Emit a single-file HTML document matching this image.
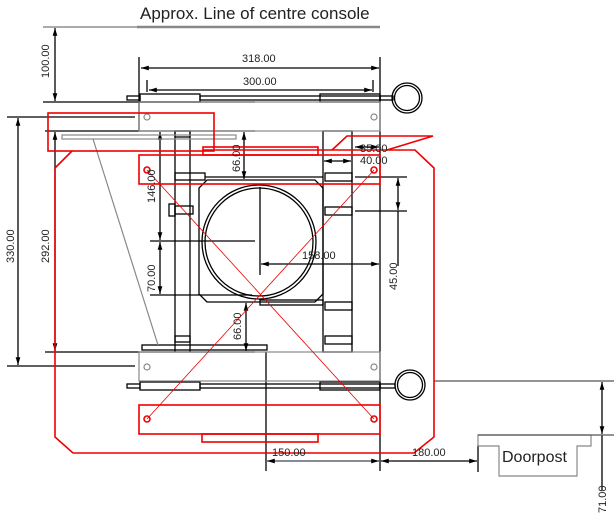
<!DOCTYPE html>
<html><head><style>body{margin:0;background:#fff}svg{display:block}text{font-family:"Liberation Sans",sans-serif;fill:#222}</style></head>
<body>
<svg width="614" height="515" viewBox="0 0 614 515" xmlns="http://www.w3.org/2000/svg">
<defs>
<marker id="a" viewBox="0 0 10 10" refX="10" refY="5" markerWidth="6" markerHeight="6" orient="auto-start-reverse"><path d="M0,2 L10,5 L0,8z" fill="#000"/></marker>
</defs>
<text x="140" y="19" font-size="17">Approx. Line of centre console</text>
<line x1="43" y1="27" x2="137" y2="27" stroke="#555" stroke-width="1"/>
<line x1="137" y1="27" x2="380" y2="27" stroke="#888" stroke-width="2.5"/>
<g stroke="#000" stroke-width="1.3" fill="none">
<line x1="55" y1="28" x2="55" y2="101" marker-start="url(#a)" marker-end="url(#a)"/>
<line x1="43" y1="102" x2="255" y2="102"/>
<line x1="139" y1="57" x2="139" y2="131"/>
<line x1="380" y1="57" x2="380" y2="471"/>
<line x1="141" y1="68" x2="379" y2="68" marker-start="url(#a)" marker-end="url(#a)"/>
<line x1="147" y1="80" x2="147" y2="92"/><line x1="373" y1="80" x2="373" y2="92"/>
<line x1="149" y1="90" x2="372" y2="90" marker-start="url(#a)" marker-end="url(#a)"/>
<rect x="127" y="96" width="13" height="4"/><rect x="140" y="94" width="60" height="8"/><rect x="200" y="96" width="180" height="4"/><rect x="320" y="94" width="60" height="8"/><rect x="380" y="96" width="13" height="4"/>
<circle cx="407" cy="98" r="15"/><circle cx="407" cy="98" r="12.5"/>
<rect x="127" y="384" width="13" height="4"/><rect x="140" y="382" width="60" height="8"/><rect x="200" y="384" width="180" height="4"/><rect x="320" y="382" width="60" height="8"/><rect x="380" y="384" width="15" height="4"/>
<circle cx="410" cy="385" r="15"/><circle cx="410" cy="385" r="12.5"/>
<line x1="7" y1="117" x2="135" y2="117"/><line x1="7" y1="366" x2="135" y2="366"/>
<line x1="18" y1="118" x2="18" y2="365" marker-start="url(#a)" marker-end="url(#a)"/>
<line x1="45" y1="131" x2="255" y2="131"/><line x1="45" y1="352" x2="255" y2="352"/>
<line x1="55" y1="132" x2="55" y2="351" marker-start="url(#a)" marker-end="url(#a)"/>
<line x1="175" y1="131" x2="175" y2="352"/><line x1="190" y1="131" x2="190" y2="352"/>
<rect x="175" y="131" width="15" height="6"/><rect x="175" y="336" width="15" height="6"/>
<rect x="169" y="204" width="6" height="12"/><rect x="175" y="206" width="18" height="8"/>
<path d="M207,180 L315,180 L323,188 L323,294 L315,302 L207,302 L199,294 L199,188Z"/>
<circle cx="259" cy="242" r="57"/><circle cx="259" cy="242" r="54"/>
<rect x="323" y="131" width="29" height="221"/>
<rect x="175" y="173" width="30" height="7"/><line x1="205" y1="177" x2="323" y2="177"/>
<rect x="325" y="173" width="27" height="8"/><rect x="325" y="207" width="27" height="8"/>
<rect x="260" y="300" width="63" height="5"/><rect x="325" y="302" width="27" height="8"/><rect x="325" y="336" width="27" height="8"/>
<rect x="142" y="345" width="125" height="5"/>
<line x1="150" y1="241" x2="255" y2="241"/><line x1="150" y1="295" x2="252" y2="295"/>
<line x1="160" y1="132" x2="160" y2="240" marker-start="url(#a)" marker-end="url(#a)"/>
<line x1="160" y1="242" x2="160" y2="294" marker-start="url(#a)" marker-end="url(#a)"/>
<line x1="244" y1="132" x2="244" y2="179" marker-start="url(#a)" marker-end="url(#a)"/>
<line x1="246" y1="303" x2="246" y2="351" marker-start="url(#a)" marker-end="url(#a)"/>
<line x1="260" y1="187" x2="260" y2="275"/>
<line x1="261" y1="264" x2="379" y2="264" marker-start="url(#a)" marker-end="url(#a)"/>
<line x1="355" y1="177" x2="407" y2="177"/><line x1="355" y1="211" x2="407" y2="211"/>
<line x1="398" y1="178" x2="398" y2="210" marker-start="url(#a)" marker-end="url(#a)"/>
<line x1="398" y1="211" x2="398" y2="266"/>
<line x1="355" y1="147" x2="379" y2="147" marker-start="url(#a)" marker-end="url(#a)"/>
<line x1="324" y1="161" x2="351" y2="161" marker-start="url(#a)" marker-end="url(#a)"/>
<line x1="266" y1="352" x2="266" y2="471"/>
<line x1="267" y1="461" x2="379" y2="461" marker-start="url(#a)" marker-end="url(#a)" stroke="#445"/>
<line x1="381" y1="461" x2="477" y2="461" marker-start="url(#a)" marker-end="url(#a)"/>
<line x1="478" y1="445" x2="478" y2="472"/>
<line x1="602" y1="382" x2="602" y2="434" marker-start="url(#a)" marker-end="url(#a)"/>
<line x1="602" y1="435" x2="602" y2="490"/>
</g>
<g stroke="#888" fill="none" stroke-width="1.2">
<rect x="139" y="102" width="241" height="29"/><rect x="139" y="352" width="241" height="29"/>
<circle cx="147" cy="117" r="3"/><circle cx="374" cy="117" r="3"/>
<circle cx="147" cy="367" r="3"/><circle cx="374" cy="367" r="3"/>
<rect x="62" y="135" width="174" height="4"/>
<line x1="93" y1="139" x2="158" y2="345"/>
<path d="M478,435 L591,435 L591,446 L577,446 L577,476 L499,476 L499,446 L478,446Z"/>
</g>
<line x1="434" y1="381" x2="614" y2="381" stroke="#555" stroke-width="1.2"/>
<line x1="478" y1="435" x2="614" y2="435" stroke="#555" stroke-width="1.2"/>
<g stroke="#e00" fill="none" stroke-width="1.6">
<rect x="48" y="113" width="166" height="38"/>
<path d="M72,151 L55,168 L55,437 L73,453 L414,453 L434,437 L434,168 L415,150 L203,150"/>
<path d="M332,150 L347,136 L433,136 L387,150"/>
<rect x="203" y="147" width="115" height="8"/>
<rect x="139" y="155" width="241" height="29"/>
<rect x="139" y="405" width="241" height="29"/>
<rect x="202" y="434" width="116" height="8"/>
<circle cx="147" cy="170" r="3"/><circle cx="374" cy="170" r="3"/>
<circle cx="147" cy="419" r="3"/><circle cx="374" cy="419" r="3"/>
</g>
<g stroke="#e00" stroke-width="0.8">
<line x1="147" y1="170" x2="374" y2="419"/><line x1="374" y1="170" x2="147" y2="419"/>
</g>
<g font-size="11">
<text x="242" y="62">318.00</text>
<text x="243" y="85">300.00</text>
<text x="360" y="152">35.00</text>
<text x="360" y="164">40.00</text>
<text x="302" y="259">158.00</text>
<text x="272" y="456">150.00</text>
<text x="412" y="456">180.00</text>
<text transform="translate(49,78) rotate(-90)">100.00</text>
<text transform="translate(14,263) rotate(-90)">330.00</text>
<text transform="translate(49,263) rotate(-90)">292.00</text>
<text transform="translate(155,203) rotate(-90)">146.00</text>
<text transform="translate(155,292) rotate(-90)">70.00</text>
<text transform="translate(240,172) rotate(-90)">66.00</text>
<text transform="translate(241,340) rotate(-90)">66.00</text>
<text transform="translate(397,290) rotate(-90)">45.00</text>
<text transform="translate(606,513) rotate(-90)">71.00</text>
</g>
<text x="502" y="462" font-size="16">Doorpost</text>
</svg>
</body></html>
